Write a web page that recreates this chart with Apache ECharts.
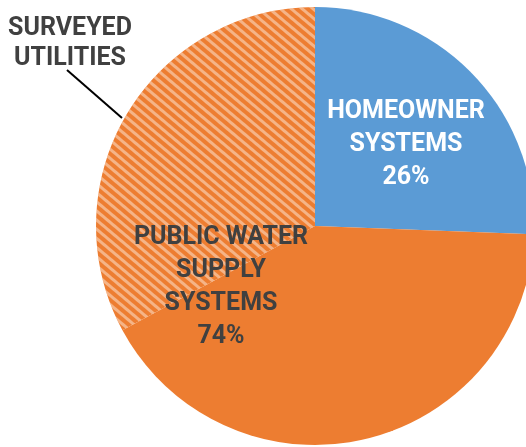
<!DOCTYPE html>
<html>
<head>
<meta charset="utf-8">
<script src="https://cdn.jsdelivr.net/npm/echarts@6/dist/echarts.min.js"></script>
<style>
  html, body { margin: 0; padding: 0; background: #fff; }
  #chart { width: 526px; height: 447px; }
</style>
</head>
<body>
<div id="chart"></div>
<script>
   var categories = ['HOMEOWNER\nSYSTEMS', 'PUBLIC WATER\nSUPPLY\nSYSTEMS', 'SURVEYED\nUTILITIES'];
   var values = [25.6, 41.5, 32.9];
   var colors = ['#5B9BD5', '#ED7D31', '#ED7D31'];
   // public water supply includes the surveyed utilities share
   var publicShare = values[1] + values[2];

   var chart = echarts.init(document.getElementById('chart'));
   var font = 'Roboto, "Open Sans", sans-serif';

   var option = {
       animation: false,
       series: [{
           type: 'pie',
           center: [315, 226],
           radius: 219,
           startAngle: 90,
           clockwise: true,
           avoidLabelOverlap: false,
           data: [{
               name: categories[0],
               value: values[0],
               itemStyle: { color: colors[0] },
               label: {
                   show: true,
                   position: 'inside',
                   color: '#fff',
                   formatter: categories[0] + '\n' + Math.round(values[0]) + '%'
               }
           }, {
               name: categories[1],
               value: values[1],
               itemStyle: { color: colors[1] },
               label: {
                   show: true,
                   position: 'inside',
                   color: '#404040',
                   formatter: categories[1] + '\n' + Math.round(publicShare) + '%'
               }
           }, {
               name: categories[2],
               value: values[2],
               itemStyle: {
                   color: colors[2],
                   decal: {
                       symbol: 'rect',
                       symbolSize: 1,
                       dashArrayX: [1, 0],
                       dashArrayY: [3, 4],
                       rotation: Math.PI / 4.5,
                       color: 'rgba(255, 255, 255, 0.42)'
                   }
               },
               label: {
                   show: true,
                   position: 'outside',
                   color: '#404040',
                   lineHeight: 30,
                   formatter: categories[2]
               },
               labelLine: {
                   show: true,
                   lineStyle: { color: '#000', width: 2 }
               }
           }],
           label: {
               fontFamily: font,
               fontWeight: 'bold',
               fontSize: 25,
               lineHeight: 33,
               align: 'center'
           },
           labelLayout: function (params) {
               if (params.dataIndex === 0) {
                   return { x: 406, y: 145, align: 'center', verticalAlign: 'middle' };
               }
               if (params.dataIndex === 1) {
                   return { x: 221, y: 287, align: 'center', verticalAlign: 'middle' };
               }
               return {
                   x: 70, y: 44, align: 'center', verticalAlign: 'middle',
                   labelLinePoints: [[122, 118], [67, 70], [67, 70]]
               };
           },
           itemStyle: { borderWidth: 0 },
           emphasis: { disabled: true }
       }]
   };
   chart.setOption(option);
   window.onresize = function () {
       chart.resize();
   };
</script>
</body>
</html>
